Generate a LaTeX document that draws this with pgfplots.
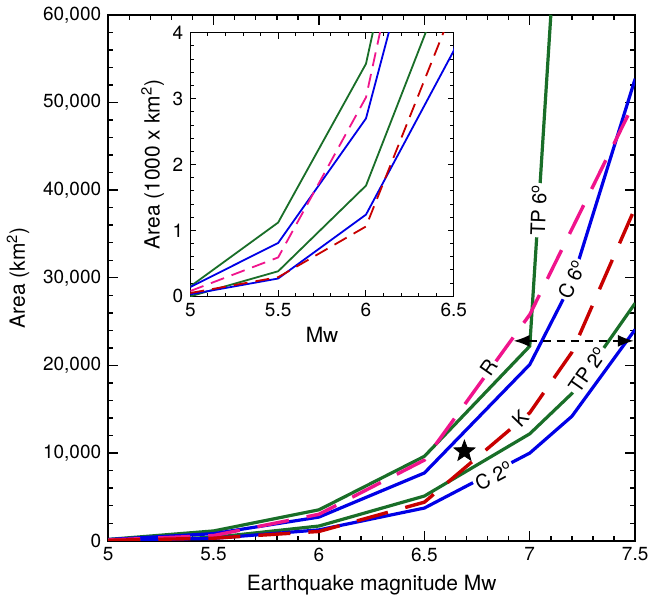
\documentclass[border=0pt]{standalone}
\usepackage{fontspec}
\setmainfont{TeX Gyre Heros}
\usepackage{pgfplots}
\usepackage{pgfplotstable}
\pgfplotsset{compat=1.18}
\usetikzlibrary{arrows.meta}

\definecolor{tpgreen}{RGB}{25,110,40}
\definecolor{cblue}{RGB}{0,0,230}
\definecolor{rpink}{RGB}{240,20,140}
\definecolor{kred}{RGB}{200,0,0}

% filled five-pointed star
\pgfdeclareplotmark{fstar}{%
  \pgfpathmoveto{\pgfpointpolar{90}{\pgfplotmarksize}}%
  \pgfpathlineto{\pgfpointpolar{126}{0.42\pgfplotmarksize}}%
  \pgfpathlineto{\pgfpointpolar{162}{\pgfplotmarksize}}%
  \pgfpathlineto{\pgfpointpolar{198}{0.42\pgfplotmarksize}}%
  \pgfpathlineto{\pgfpointpolar{234}{\pgfplotmarksize}}%
  \pgfpathlineto{\pgfpointpolar{270}{0.42\pgfplotmarksize}}%
  \pgfpathlineto{\pgfpointpolar{306}{\pgfplotmarksize}}%
  \pgfpathlineto{\pgfpointpolar{342}{0.42\pgfplotmarksize}}%
  \pgfpathlineto{\pgfpointpolar{18}{\pgfplotmarksize}}%
  \pgfpathlineto{\pgfpointpolar{54}{0.42\pgfplotmarksize}}%
  \pgfpathclose
  \pgfusepathqfillstroke
}

% area (km^2) against magnitude
\pgfplotstableread{
mw   area
5    150
5.5  1120
6    3530
6.5  9630
7    22200
7.1  60000
}\tpsix
\pgfplotstableread{
mw   area
5    140
5.5  810
6    2700
6.5  7730
7    20100
7.2  29500
7.5  52700
}\csix
\pgfplotstableread{
mw   area
5    80
5.5  590
6    3020
6.5  9200
7    25800
7.5  50200
}\rcurve
\pgfplotstableread{
mw   area
5    0
5.5  380
6    1680
6.5  5100
7    12200
7.2  16800
7.5  27100
}\tptwo
\pgfplotstableread{
mw   area
5    30
5.5  270
6    1240
6.5  3730
7    10000
7.2  14200
7.5  24100
}\ctwo
\pgfplotstableread{
mw   area
5    50
5.5  290
6    1060
6.5  4400
7    14600
7.2  21500
7.5  38000
}\kcurve

\begin{document}
\begin{tikzpicture}
\pgfplotsset{
  tick label style={font=\fontsize{9.5}{11}\selectfont},
  label style={font=\fontsize{10.5}{12}\selectfont},
  /pgf/number format/assume math mode=true,
  tick align=inside,
}
\begin{axis}[
    width=263bp, height=262.5bp, scale only axis,
    xmin=5, xmax=7.5, ymin=0, ymax=60000,
    xtick={5,5.5,6,6.5,7,7.5},
    ytick={0,10000,20000,30000,40000,50000,60000},
    minor x tick num=4, minor y tick num=4,
    scaled y ticks=false,
    yticklabel style={/pgf/number format/.cd, fixed, 1000 sep={,}},
    major tick length=5bp, minor tick length=2.5bp,
    axis line style={line width=0.8bp},
    every tick/.style={black, line width=0.7bp},
    xlabel={Earthquake magnitude Mw},
    ylabel={Area (km\textsuperscript{2})},
]
\addplot[tpgreen, line width=1.6bp] table[x=mw, y=area] {\tpsix};
\addplot[tpgreen, line width=1.6bp] table[x=mw, y=area] {\tptwo};
\addplot[cblue, line width=1.6bp] table[x=mw, y=area] {\csix};
\addplot[cblue, line width=1.6bp] table[x=mw, y=area] {\ctwo};
\addplot[rpink, line width=1.7bp, dash pattern=on 16bp off 9bp] table[x=mw, y=area] {\rcurve};
\addplot[kred, line width=1.7bp, dash pattern=on 16bp off 9bp] table[x=mw, y=area] {\kcurve};
\addplot[only marks, mark=fstar, mark size=5.5bp, black, mark options={fill=black}] coordinates {(6.69,10200)};

\draw[black, line width=1bp, dash pattern=on 4bp off 3bp,
      {Latex[length=8bp,width=6bp]}-{Latex[length=8bp,width=6bp]}]
  (axis cs:6.923,22800) -- (axis cs:7.494,22800);

\node[rotate=88, fill=white, inner sep=0.8pt] at (axis cs:7.042,37700) {TP 6\textsuperscript{o}};
\node[rotate=65, fill=white, inner sep=0.8pt] at (axis cs:7.20,29800) {C 6\textsuperscript{o}};
\node[rotate=55, fill=white, inner sep=0.8pt] at (axis cs:6.805,19800) {R};
\node[rotate=46, fill=white, inner sep=0.8pt] at (axis cs:6.955,13900) {K};
\node[rotate=55, fill=white, inner sep=0.8pt] at (axis cs:7.275,19500) {TP 2\textsuperscript{o}};
\node[rotate=28, fill=white, inner sep=0.8pt] at (axis cs:6.83,7400) {C 2\textsuperscript{o}};
\end{axis}

\begin{axis}[
    at={(41bp,122bp)}, anchor=south west,
    width=131.5bp, height=131.5bp, scale only axis,
    axis background/.style={fill=white},
    xmin=5, xmax=6.5, ymin=0, ymax=4,
    xtick={5,5.5,6,6.5}, ytick={0,1,2,3,4},
    minor x tick num=4, minor y tick num=4,
    major tick length=3bp, minor tick length=1.7bp,
    axis line style={line width=0.6bp},
    every tick/.style={black, line width=0.5bp},
    xlabel={Mw},
    ylabel={Area (1000 x km\textsuperscript{2})},
    xlabel style={yshift=2bp},
    ylabel style={yshift=-2.5bp},
]
\addplot[tpgreen, line width=0.9bp] table[x=mw, y expr=\thisrow{area}/1000] {\tpsix};
\addplot[tpgreen, line width=0.9bp] table[x=mw, y expr=\thisrow{area}/1000] {\tptwo};
\addplot[cblue, line width=0.9bp] table[x=mw, y expr=\thisrow{area}/1000] {\csix};
\addplot[cblue, line width=0.9bp] table[x=mw, y expr=\thisrow{area}/1000] {\ctwo};
\addplot[rpink, line width=0.9bp, dash pattern=on 7bp off 4bp] table[x=mw, y expr=\thisrow{area}/1000] {\rcurve};
\addplot[kred, line width=0.9bp, dash pattern=on 7bp off 4bp] table[x=mw, y expr=\thisrow{area}/1000] {\kcurve};
\end{axis}
\end{tikzpicture}
\end{document}
